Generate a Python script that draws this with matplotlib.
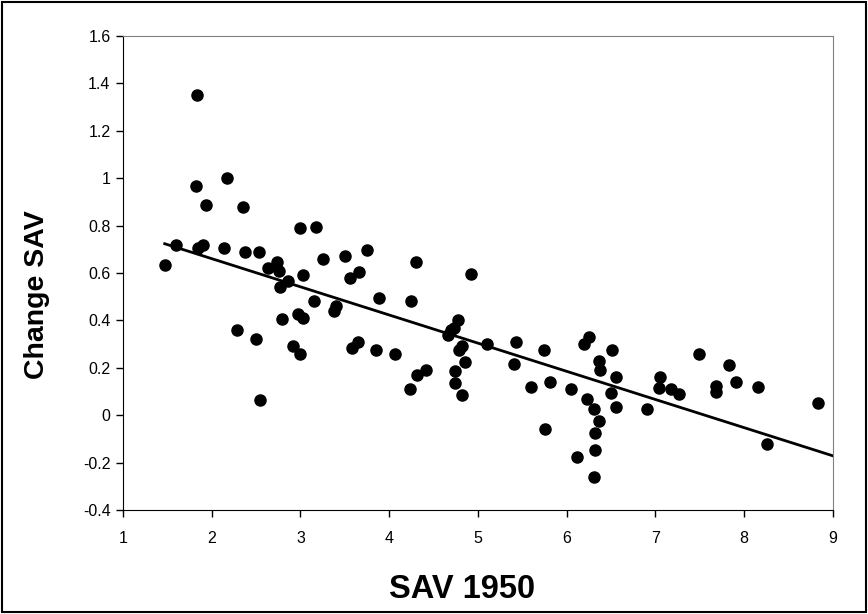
import numpy as np
import matplotlib.pyplot as plt
from matplotlib.patches import Rectangle

plt.rcParams['font.family'] = ['Liberation Sans', 'DejaVu Sans']

# SAV 1950 values (x) and change in SAV (y)
sav_1950 = [1.47, 1.60, 1.83, 1.82, 1.85, 1.90, 1.93, 2.14, 2.17, 2.35,
            2.37, 2.28, 2.50, 2.53, 2.54, 2.63, 2.73, 2.76, 2.77, 2.79,
            2.86, 2.92, 2.97, 3.00, 3.00, 3.03, 3.03, 3.15, 3.18, 3.25,
            3.38, 3.40, 3.50, 3.56, 3.58, 3.65, 3.66, 3.75, 3.85, 3.88,
            4.07, 4.23, 4.25, 4.30, 4.31, 4.41, 4.66, 4.70, 4.73, 4.74,
            4.74, 4.77, 4.79, 4.82, 4.82, 4.85, 4.92, 5.10, 5.41, 5.43,
            5.60, 5.74, 5.75, 5.81, 6.05, 6.12, 6.20, 6.23, 6.25, 6.31,
            6.32, 6.32, 6.31, 6.36, 6.37, 6.36, 6.50, 6.51, 6.56, 6.56,
            6.90, 7.04, 7.05, 7.18, 7.26, 7.49, 7.68, 7.68, 7.83, 7.91,
            8.16, 8.26, 8.83]
change_sav = [0.635, 0.72, 1.35, 0.965, 0.705, 0.72, 0.885, 0.705, 1.0, 0.88,
              0.69, 0.36, 0.32, 0.69, 0.065, 0.62, 0.645, 0.61, 0.54, 0.405,
              0.565, 0.29, 0.425, 0.79, 0.26, 0.41, 0.59, 0.48, 0.795, 0.66,
              0.44, 0.46, 0.67, 0.58, 0.285, 0.31, 0.605, 0.695, 0.275, 0.495,
              0.26, 0.11, 0.48, 0.645, 0.17, 0.19, 0.34, 0.36, 0.37, 0.185,
              0.135, 0.40, 0.275, 0.29, 0.085, 0.225, 0.595, 0.30, 0.215, 0.31,
              0.12, 0.275, -0.06, 0.14, 0.11, -0.175, 0.30, 0.07, 0.33, 0.025,
              -0.075, -0.145, -0.26, 0.23, 0.19, -0.025, 0.095, 0.275, 0.16, 0.035,
              0.025, 0.115, 0.16, 0.11, 0.09, 0.26, 0.125, 0.10, 0.21, 0.14,
              0.12, -0.12, 0.05]

x = np.array(sav_1950)
y = np.array(change_sav)
slope, intercept = np.polyfit(x, y, 1)
xfit = np.array([x.min(), 9.0])

W, H = 868, 614
fig = plt.figure(figsize=(W / 100, H / 100), dpi=100)
ax = fig.add_axes([123 / W, 1 - 510 / H, 710 / W, 474 / H])

ax.plot(x, y, 'o', color='black', markersize=8)
ax.plot(xfit, slope * xfit + intercept, color='black', linewidth=2)

ax.set_xlim(1, 9)
ax.set_ylim(-0.4, 1.6)
ax.set_xticks(np.arange(1, 10, 1))
ax.set_yticks(np.arange(-0.4, 1.61, 0.2))
ax.set_yticklabels(['-0.4', '-0.2', '0', '0.2', '0.4', '0.6', '0.8', '1', '1.2', '1.4', '1.6'])
ax.tick_params(labelsize=11.5, direction='out', length=5, width=1)
ax.tick_params(axis='x', pad=10)
ax.tick_params(axis='y', pad=4)

for side in ['top', 'right']:
    ax.spines[side].set_color('#808080')
for side in ['left', 'bottom']:
    ax.spines[side].set_color('black')

# axis titles sit slightly off the axes centre, as in the original
fig.text(462 / W, 1 - 590 / H, 'SAV 1950', fontsize=23.5, fontweight='bold',
         ha='center', va='center')
fig.text(37 / W, 1 - 295 / H, 'Change SAV', fontsize=20.5, fontweight='bold',
         ha='center', va='center', rotation=90)

fig.patches.append(Rectangle((2 / W, 2 / H), 864 / W, 610 / H,
                             transform=fig.transFigure, fill=False,
                             edgecolor='black', linewidth=1.5))

fig.savefig('out.png', dpi=100)
